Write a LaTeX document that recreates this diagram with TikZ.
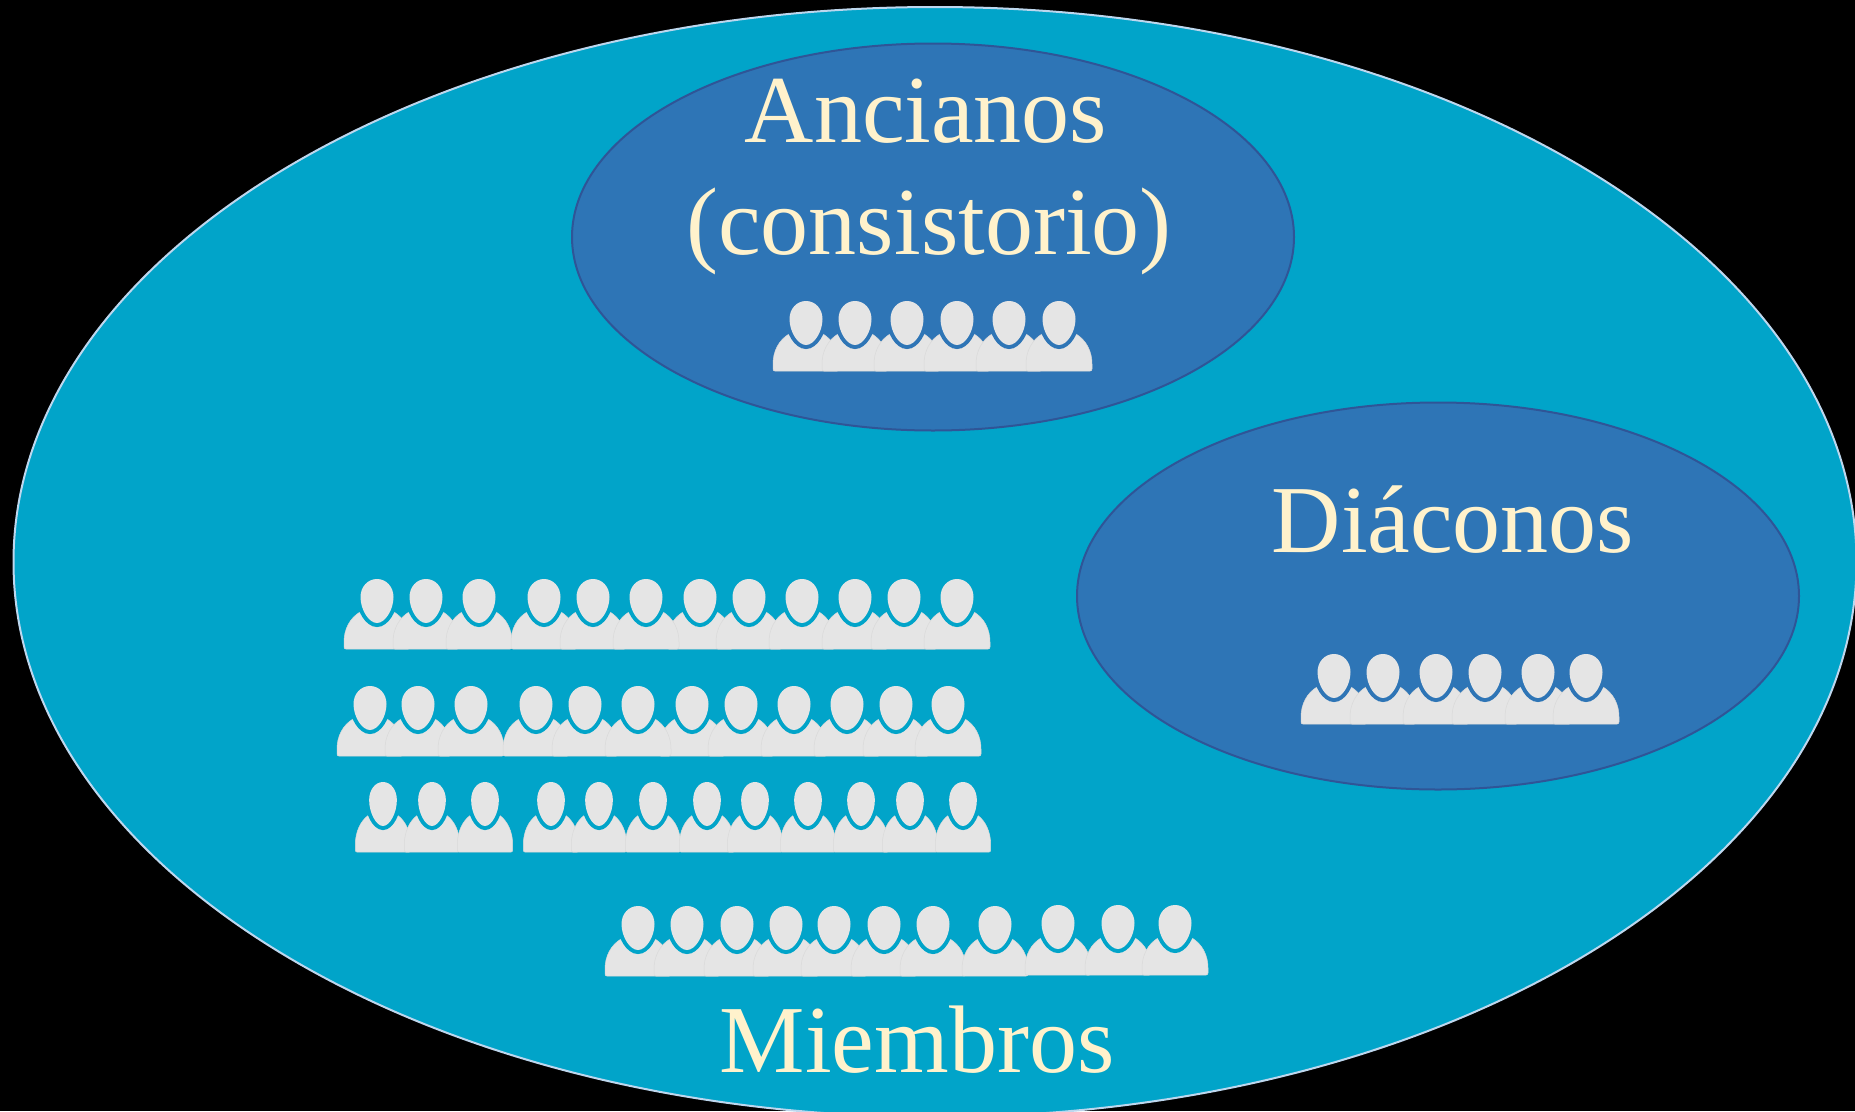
\documentclass[tikz,border=0pt]{standalone}
\usepackage{fontspec}
\setmainfont{Liberation Serif}
\usetikzlibrary{shapes.geometric}

\definecolor{sea}{HTML}{01A4C9}
\definecolor{royal}{HTML}{2E75B6}
\definecolor{royaledge}{HTML}{2F5597}
\definecolor{paleedge}{HTML}{BDD7EE}
\definecolor{cream}{HTML}{FFF2CC}
\definecolor{figure}{HTML}{E5E5E5}
\definecolor{seam}{HTML}{D9D9D9}

\newcommand{\headpath}{(0,0) .. controls (9.5,0) and (16.5,8) .. (16.5,18)
  .. controls (16.5,31) and (8,44) .. (0,44) .. controls (-8,44) and (-16.5,31) .. (-16.5,18)
  .. controls (-16.5,8) and (-9.5,0) .. (0,0) -- cycle}

\tikzset{
  pics/person/.style={code={
    \filldraw[fill=figure, draw=seam, line width=.5pt] (-33,68) -- (-33,63) .. controls (-33,50) and (-27,39) .. (-17,33)
      -- (17,33) .. controls (27,39) and (33,50) .. (33,63) -- (33,68)
      .. controls (33,69.5) and (32,70) .. (31,70) -- (-31,70)
      .. controls (-32,70) and (-33,69.5) .. (-33,68) -- cycle;
    \draw[#1, line width=8pt] \headpath;
    \fill[figure] \headpath;
  }},
  bubble/.style={ellipse, inner sep=0pt, minimum width=722pt, minimum height=387pt, fill=royal, draw=royaledge, line width=2pt},
  caption/.style={anchor=base, text=cream, font=\fontsize{96}{96}\selectfont}
}

\begin{document}
\begin{tikzpicture}[x=1pt, y=-1pt]

  \fill[black] (0,0) rectangle (1855,1111);
  \path[use as bounding box, clip] (0,0) rectangle (1855,1111);

  \node[ellipse, inner sep=0pt, minimum width=1843pt, minimum height=1110pt, fill=sea, draw=paleedge, line width=2pt] (church) at (935,562) {};
  \node[bubble] (elders) at (933,237) {};
  \node[bubble] (deacons) at (1438,596) {};

  \node[caption] (ancianos) at (926,142) {Ancianos};
  \node[caption] (consistorio) at (929,254) {(consistorio)};
  \node[caption] (diaconos) at (1453,552) {Diáconos};
  \node[caption] (miembros) at (917,1072) {Miembros};

  \foreach \hx in {806,855,907,957,1009,1059}
    \pic at (\hx,301) {person=royal};
  \foreach \hx in {1334,1383,1436,1485,1538,1586}
    \pic at (\hx,654) {person=royal};

  \foreach \hx in {377,426,479,700,749,802,855,904,957,544,593,646}
    \pic at (\hx,579) {person=sea};
  \foreach \hx in {370,418,471,692,741,794,847,896,948,536,585,638}
    \pic at (\hx,686) {person=sea};
  \foreach \hx in {383,432,485,551,599,653,707,755,808,861,910,963}
    \pic[xscale=.84] at (\hx,782) {person=sea};
  \foreach \hx in {638,687,737,786,834,884,933,995}
    \pic at (\hx,906) {person=sea};
  \foreach \hx in {1058,1118,1175}
    \pic at (\hx,905) {person=sea};

\end{tikzpicture}
\end{document}
